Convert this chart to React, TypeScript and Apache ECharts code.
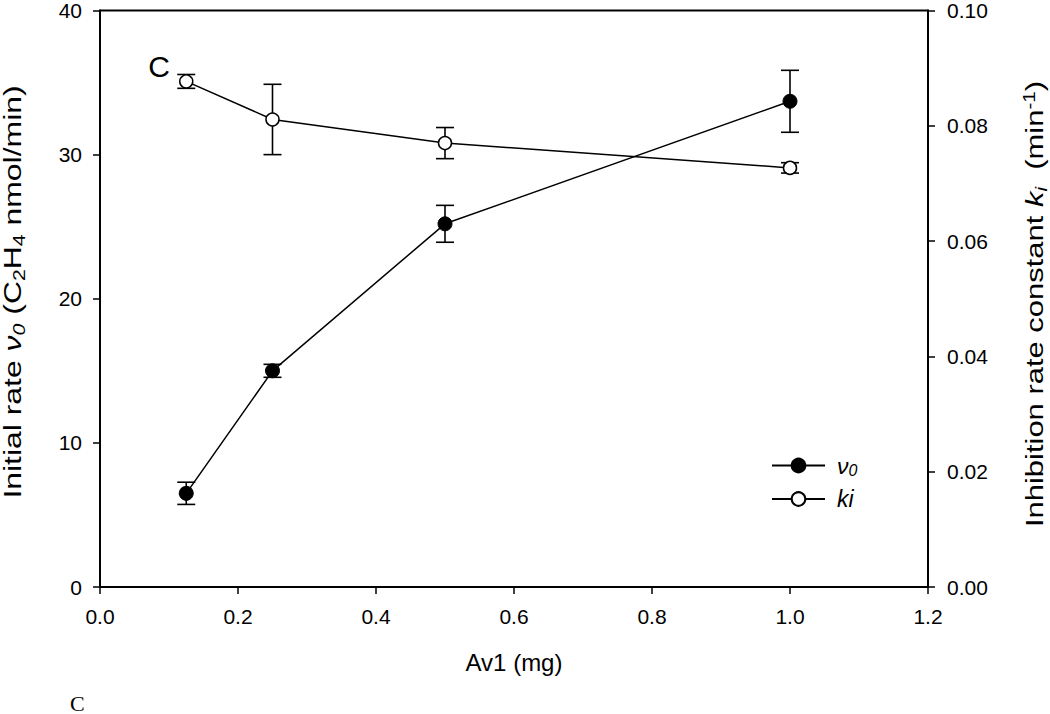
import React, { useEffect, useRef } from "react";
import * as echarts from "echarts";

const xValues = [0.125, 0.25, 0.5, 1.0];
const v0Values = [6.5, 15.0, 25.2, 33.7];
const v0Errors = [0.77, 0.45, 1.28, 2.15];
const kiValues = [0.0877, 0.0811, 0.077, 0.0727];
const kiErrors = [0.0012, 0.0061, 0.0027, 0.0009];
const xTicks = { min: 0, max: 1.2, interval: 0.2 };
const leftTicks = { min: 0, max: 40, interval: 10 };
const rightTicks = { min: 0, max: 0.1, interval: 0.02 };

const FONT = "'Liberation Sans', Arial, Helvetica, sans-serif";

const makeRich = (big: number, small: number, lh: number) => ({
  n: { fontSize: big, lineHeight: lh, fontFamily: FONT, color: "#000" },
  i: { fontSize: big, lineHeight: lh, fontFamily: FONT, fontStyle: "italic", color: "#000" },
  sub: { fontSize: small, lineHeight: small, fontFamily: FONT, verticalAlign: "bottom", color: "#000" },
  isub: { fontSize: small, lineHeight: small, fontFamily: FONT, fontStyle: "italic", verticalAlign: "bottom", color: "#000" },
  sup: { fontSize: small, lineHeight: small, fontFamily: FONT, verticalAlign: "top", color: "#000" },
});

const richTitle = makeRich(24, 16, 28);
const richLegend = makeRich(23, 16, 26);

export default function App() {
  const ref = useRef<HTMLDivElement>(null);
  useEffect(() => {
    if (!ref.current) return;
    const chart = echarts.init(ref.current, null, { renderer: "svg" });

    const errRender = (params: any, api: any) => {
      const x = api.value(0);
      const lo = api.value(1);
      const hi = api.value(2);
      const pLo = api.coord([x, lo]);
      const pHi = api.coord([x, hi]);
      const w = 9;
      const style = { stroke: "#000", lineWidth: 1.6 };
      return {
        type: "group",
        children: [
          { type: "line", shape: { x1: pLo[0], y1: pLo[1], x2: pHi[0], y2: pHi[1] }, style },
          { type: "line", shape: { x1: pLo[0] - w, y1: pLo[1], x2: pLo[0] + w, y2: pLo[1] }, style },
          { type: "line", shape: { x1: pHi[0] - w, y1: pHi[1], x2: pHi[0] + w, y2: pHi[1] }, style },
        ],
      };
    };

    const axisCommon = {
      axisLine: { show: true, lineStyle: { color: "#000", width: 1.8 } },
      axisTick: { show: true, inside: false, length: 7, lineStyle: { color: "#000", width: 1.5 } },
      splitLine: { show: false },
    };

    chart.setOption({
      animation: false,
      backgroundColor: "#fff",
      grid: {
        left: 100,
        right: 122,
        top: 9,
        bottom: 127,
        show: true,
        borderColor: "#000",
        borderWidth: 1.8,
        backgroundColor: "transparent",
      },
      xAxis: {
        type: "value",
        ...xTicks,
        ...axisCommon,
        axisLabel: {
          margin: 19,
          fontSize: 21,
          color: "#000",
          fontFamily: FONT,
          formatter: (v: number) => v.toFixed(1),
        },
      },
      yAxis: [
        {
          type: "value",
          position: "left",
          ...leftTicks,
          ...axisCommon,
          axisLabel: { margin: 18, fontSize: 21, color: "#000", fontFamily: FONT },
        },
        {
          type: "value",
          position: "right",
          ...rightTicks,
          ...axisCommon,
          axisLabel: {
            margin: 19,
            fontSize: 21,
            color: "#000",
            fontFamily: FONT,
            formatter: (v: number) => v.toFixed(2),
          },
        },
      ],
      legend: {
        orient: "vertical",
        left: 766,
        top: 449,
        itemWidth: 53,
        itemHeight: 17,
        itemGap: 9,
        data: ["v0", "ki"],
        formatter: (name: string) =>
          name === "v0" ? "{i|ν}{isub|0}" : "{i|ki}",
        textStyle: {
          padding: [0, 0, 0, 7],
          rich: richLegend,
        },
      },
      series: [
        {
          name: "v0err",
          type: "custom",
          xAxisIndex: 0,
          yAxisIndex: 0,
          z: 1,
          renderItem: errRender,
          data: xValues.map((x, k) => [x, v0Values[k] - v0Errors[k], v0Values[k] + v0Errors[k]]),
          silent: true,
        },
        {
          name: "kierr",
          type: "custom",
          xAxisIndex: 0,
          yAxisIndex: 1,
          z: 1,
          renderItem: errRender,
          data: xValues.map((x, k) => [x, kiValues[k] - kiErrors[k], kiValues[k] + kiErrors[k]]),
          silent: true,
        },
        {
          name: "v0",
          type: "line",
          yAxisIndex: 0,
          z: 3,
          data: xValues.map((x, k) => [x, v0Values[k]]),
          symbol: "circle",
          symbolSize: 14,
          lineStyle: { color: "#000", width: 1.5 },
          itemStyle: { color: "#000", borderColor: "#000", borderWidth: 1 },
        },
        {
          name: "ki",
          type: "line",
          yAxisIndex: 1,
          z: 3,
          data: xValues.map((x, k) => [x, kiValues[k]]),
          symbol: "circle",
          symbolSize: 13,
          lineStyle: { color: "#000", width: 1.5 },
          itemStyle: { color: "#fff", borderColor: "#000", borderWidth: 1.5 },
        },
      ],
      graphic: [
        {
          type: "text",
          x: 13,
          y: 292,
          rotation: Math.PI / 2,
          scaleX: 1.33,
          style: {
            text: "{n|Initial rate }{i|ν}{isub|0}{n| (C}{sub|2}{n|H}{sub|4}{n| nmol/min)}",
            rich: richTitle,
            align: "center",
            verticalAlign: "middle",
          },
        },
        {
          type: "text",
          x: 1035,
          y: 304,
          rotation: Math.PI / 2,
          scaleX: 1.29,
          style: {
            text: "{n|Inhibition rate constant }{i|k}{isub|i}{n|  (min}{sup|-1}{n|)}",
            rich: richTitle,
            align: "center",
            verticalAlign: "middle",
          },
        },
        {
          type: "text",
          x: 514,
          y: 662,
          style: {
            text: "Av1 (mg)",
            fontSize: 24,
            fontFamily: FONT,
            fill: "#000",
            align: "center",
            verticalAlign: "middle",
          },
        },
        {
          type: "text",
          x: 159,
          y: 66,
          style: {
            text: "C",
            fontSize: 30,
            fontFamily: FONT,
            fill: "#000",
            align: "center",
            verticalAlign: "middle",
          },
        },
        {
          type: "text",
          x: 70,
          y: 692,
          style: {
            text: "C",
            fontSize: 22,
            fontFamily: "'Liberation Serif', 'Times New Roman', serif",
            fill: "#000",
            align: "left",
            verticalAlign: "top",
          },
        },
      ],
    });
    return () => chart.dispose();
  }, []);
  return <div ref={ref} style={{ width: 1050, height: 714, position: "fixed", left: 0, top: 0 }} />;
}
